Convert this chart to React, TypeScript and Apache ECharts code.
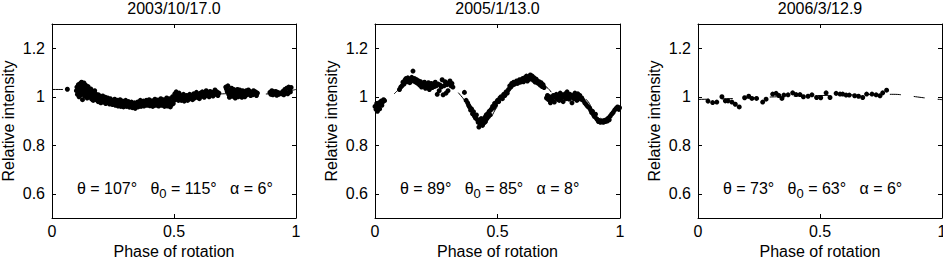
import React, { useEffect, useRef } from "react";
import * as echarts from "echarts";

// ---------- data ----------
const titles = ["2003/10/17.0", "2005/1/13.0", "2006/3/12.9"];
const annotations = [
  ["107", "115", "6"],
  ["89", "85", "8"],
  ["73", "63", "6"],
];
const xTickLabels = ["0", "0.5", "1"];
const yTickValues = [0.6, 0.8, 1, 1.2];
const yTickLabels = ["0.6", "0.8", "1", "1.2"];

const modelPhases = [0, 0.05, 0.1, 0.15, 0.2, 0.25, 0.3, 0.35, 0.4, 0.45, 0.5, 0.55, 0.6, 0.65, 0.7, 0.75, 0.8, 0.85, 0.9, 0.95, 1.0];
const model1 = [1.030, 1.030, 1.022, 1.010, 0.995, 0.985, 0.978, 0.974, 0.975, 0.980, 0.988, 0.997, 1.004, 1.009, 1.012, 1.013, 1.012, 1.011, 1.013, 1.020, 1.030];
const model2 = [0.955, 0.985, 1.032, 1.065, 1.062, 1.052, 1.047, 1.005, 0.935, 0.900, 0.960, 1.025, 1.062, 1.078, 1.040, 1.000, 1.003, 0.995, 0.935, 0.898, 0.945];
const model3 = [0.989, 0.990, 0.991, 0.993, 0.995, 0.997, 0.999, 1.001, 1.003, 1.004, 1.005, 1.006, 1.007, 1.008, 1.009, 1.010, 1.010, 1.006, 0.999, 0.993, 0.988];

const phases1 = [
  0.063,
  0.100, 0.102, 0.104, 0.106, 0.108, 0.110, 0.111, 0.113, 0.115, 0.116, 0.118, 0.120, 0.121, 0.123, 0.125, 0.126, 0.128, 0.130, 0.131, 0.133, 0.135, 0.136, 0.138, 0.140, 0.142, 0.144, 0.146, 0.148, 0.150, 0.152,
  0.155, 0.157, 0.159, 0.161, 0.163, 0.165, 0.167, 0.169, 0.171, 0.173, 0.175, 0.177, 0.180, 0.182, 0.184, 0.186, 0.189, 0.191, 0.193, 0.196, 0.198, 0.200, 0.203, 0.205, 0.208, 0.210, 0.213, 0.215, 0.218, 0.220, 0.223, 0.226, 0.228, 0.231, 0.234, 0.236, 0.239, 0.242, 0.245, 0.248,
  0.251, 0.254, 0.257, 0.260, 0.262, 0.265, 0.268, 0.271, 0.273, 0.276, 0.279, 0.282, 0.285, 0.288, 0.290, 0.293, 0.296, 0.299, 0.302, 0.305, 0.308, 0.311, 0.314, 0.317, 0.320, 0.323, 0.326, 0.329, 0.332, 0.335, 0.338, 0.341, 0.344, 0.347, 0.350, 0.353, 0.356, 0.359, 0.362, 0.365, 0.368, 0.371, 0.374, 0.377, 0.380, 0.383, 0.386, 0.389, 0.392, 0.395, 0.398, 0.401, 0.404, 0.407, 0.410, 0.413, 0.416, 0.419, 0.422, 0.425, 0.428, 0.431, 0.434, 0.437, 0.440, 0.443, 0.446, 0.449,
  0.452, 0.455, 0.458, 0.461, 0.464, 0.467, 0.470, 0.473, 0.476, 0.479, 0.482, 0.485, 0.488, 0.491, 0.494, 0.497, 0.500, 0.503, 0.506, 0.509, 0.512, 0.515, 0.518, 0.521, 0.524, 0.527, 0.530, 0.533, 0.536, 0.539, 0.542, 0.545, 0.548,
  0.552, 0.556, 0.560, 0.564, 0.568, 0.572, 0.576, 0.580, 0.584, 0.588, 0.592, 0.596, 0.600, 0.604, 0.608, 0.612, 0.616, 0.620, 0.624, 0.628, 0.632, 0.636, 0.640, 0.644, 0.648, 0.652, 0.656, 0.660, 0.664, 0.668, 0.672, 0.676, 0.680, 0.684,
  0.712, 0.715, 0.718, 0.721, 0.724, 0.727, 0.730, 0.733, 0.736, 0.739, 0.742, 0.745, 0.748, 0.751, 0.754, 0.757, 0.760, 0.763, 0.766, 0.769, 0.772, 0.775, 0.778, 0.781, 0.784, 0.787, 0.790, 0.793, 0.796, 0.799, 0.802, 0.805, 0.808, 0.811, 0.814,
  0.818, 0.822, 0.826, 0.830, 0.834, 0.838, 0.842,
  0.893, 0.897, 0.901, 0.905, 0.909, 0.913, 0.917, 0.921, 0.925, 0.930, 0.934,
  0.942, 0.946, 0.950, 0.954, 0.958, 0.962, 0.966, 0.970, 0.974, 0.977, 0.980,
];
const values1 = [
  1.031,
  1.025, 1.040, 1.010, 1.030, 1.050, 1.018, 1.000, 1.045, 1.035, 1.055, 1.022, 1.008, 1.060, 1.042, 0.988, 1.030, 1.052, 1.015, 1.057, 1.038, 1.002, 1.025, 1.048, 1.012, 1.035, 0.995, 1.020, 1.042, 1.008, 1.028,
  1.015, 0.998, 1.032, 1.010, 0.990, 1.020, 1.005, 0.985, 1.012, 0.995, 1.025, 1.000, 0.988, 1.010, 0.995, 1.002, 0.980, 1.008, 0.992, 0.985, 1.000, 0.975, 0.995, 0.985, 1.003, 0.978, 0.992, 0.982, 0.998, 0.972, 0.988, 0.980, 0.995, 0.975, 0.985, 0.970, 0.992, 0.978, 0.985, 0.968,
  0.982, 0.975, 0.990, 0.965, 0.980, 0.972, 0.985, 0.962, 0.978, 0.970, 0.988, 0.960, 0.975, 0.968, 0.982, 0.958, 0.972, 0.965, 0.985, 0.960, 0.976, 0.968, 0.980, 0.957, 0.972, 0.963, 0.978, 0.955, 0.970, 0.962, 0.975, 0.952, 0.968, 0.960, 0.978, 0.958, 0.972, 0.965, 0.985, 0.960, 0.975, 0.967, 0.982, 0.962, 0.977, 0.970, 0.985, 0.965, 0.975, 0.968, 0.988, 0.963, 0.978, 0.970, 0.983, 0.960, 0.976, 0.968, 0.990, 0.965, 0.980, 0.972, 0.986, 0.962, 0.978, 0.970, 0.992, 0.965,
  0.980, 0.972, 0.988, 0.960, 0.985, 0.975, 0.995, 0.962, 0.980, 0.970, 0.992, 0.958, 0.978, 0.968, 1.000, 0.972, 0.985, 1.012, 0.995, 1.020, 0.990, 1.008, 0.985, 1.015, 0.998, 1.005, 0.985, 1.000, 0.990, 1.010, 0.982, 0.998, 0.990,
  1.005, 0.985, 0.998, 1.010, 0.992, 1.002, 0.988, 1.012, 0.995, 1.005, 1.018, 0.998, 1.010, 0.992, 1.015, 1.002, 1.020, 1.008, 0.998, 1.012, 1.025, 1.005, 1.015, 1.000, 1.022, 1.010, 1.018, 1.003, 1.015, 1.028, 1.010, 1.020, 1.005, 1.015,
  1.040, 1.032, 1.022, 1.045, 1.010, 0.998, 1.028, 1.015, 1.035, 1.002, 1.020, 1.030, 1.008, 0.995, 1.025, 1.012, 1.030, 1.000, 1.018, 1.028, 1.005, 1.015, 0.998, 1.025, 1.010, 1.020, 1.000, 1.015, 1.025, 1.008, 1.018, 1.028, 1.012, 1.022, 1.005,
  1.018, 1.008, 1.025, 1.012, 1.020, 1.005, 1.015,
  1.018, 1.010, 1.025, 1.008, 1.020, 1.012, 1.022, 1.006, 1.018, 1.010, 1.015,
  1.012, 1.022, 1.008, 1.030, 1.018, 1.035, 1.012, 1.040, 1.025, 1.020, 1.038,
];

const phases2 = [
  0.000, 0.004, 0.007, 0.010, 0.013, 0.016, 0.019, 0.022, 0.025, 0.028, 0.031, 0.035, 0.039,
  0.100, 0.105, 0.110, 0.114, 0.118, 0.122, 0.126, 0.130, 0.134, 0.138, 0.142, 0.146, 0.150, 0.155, 0.158, 0.162, 0.166, 0.170, 0.174, 0.178, 0.182, 0.186, 0.190, 0.194, 0.198, 0.202, 0.206, 0.210, 0.214, 0.218, 0.222, 0.226, 0.230, 0.234, 0.238, 0.242, 0.246, 0.250, 0.254, 0.258, 0.262, 0.266, 0.270, 0.274, 0.278, 0.282, 0.286, 0.290, 0.294, 0.298, 0.302, 0.306, 0.310, 0.314, 0.318,
  0.365,
  0.372, 0.378, 0.382, 0.386, 0.390, 0.394, 0.398, 0.402, 0.406, 0.410, 0.414, 0.418, 0.421, 0.424, 0.427, 0.430, 0.433, 0.436, 0.439, 0.442, 0.445, 0.448, 0.451, 0.454, 0.457, 0.460, 0.463, 0.466, 0.469, 0.472, 0.476, 0.480, 0.484, 0.488, 0.492,
  0.496, 0.500, 0.505, 0.510, 0.515, 0.520, 0.525, 0.530, 0.535, 0.540, 0.545, 0.550, 0.554, 0.558, 0.562, 0.566, 0.570, 0.574, 0.578, 0.582, 0.586, 0.590, 0.594, 0.598, 0.602, 0.606, 0.610, 0.614, 0.618, 0.622, 0.626, 0.630, 0.634, 0.638, 0.642, 0.646, 0.650, 0.654, 0.658, 0.662, 0.666, 0.670, 0.674, 0.678, 0.682, 0.686, 0.690,
  0.700, 0.704, 0.708, 0.712, 0.716, 0.720, 0.724, 0.728, 0.732, 0.736, 0.740, 0.744, 0.748, 0.752, 0.756, 0.760, 0.764, 0.768, 0.772, 0.776, 0.780, 0.784, 0.788, 0.792, 0.796, 0.800, 0.804, 0.808, 0.812, 0.816, 0.820, 0.824, 0.828, 0.832, 0.836, 0.840, 0.844,
  0.850, 0.856, 0.862, 0.868, 0.874, 0.880, 0.884, 0.888, 0.892, 0.896, 0.900, 0.904, 0.908, 0.912, 0.916, 0.920, 0.924, 0.928, 0.932, 0.936, 0.940, 0.944, 0.948, 0.952, 0.956, 0.960, 0.966, 0.972, 0.978, 0.984, 0.990, 0.995, 0.998,
];
const values2 = [
  0.960, 0.948, 0.972, 0.940, 0.958, 0.975, 0.950, 0.968, 0.982, 0.965, 0.978, 0.988, 0.984,
  1.030, 1.040, 1.045, 1.060, 1.052, 1.068, 1.075, 1.062, 1.078, 1.070, 1.058, 1.072, 1.080, 1.106, 1.065, 1.075, 1.060, 1.070, 1.055, 1.065, 1.048, 1.062, 1.040, 1.055, 1.045, 1.060, 1.035, 1.050, 1.042, 1.058, 1.030, 1.048, 1.055, 1.038, 1.050, 1.042, 1.060, 1.045, 1.010, 1.052, 1.025, 1.048, 1.040, 1.070, 1.008, 1.045, 1.062, 1.015, 1.050, 1.025, 1.058, 1.065, 1.045, 1.055, 1.040,
  1.018,
  0.985, 0.975, 0.965, 0.958, 0.945, 0.950, 0.930, 0.938, 0.920, 0.912, 0.925, 0.905, 0.895, 0.875, 0.900, 0.888, 0.910, 0.895, 0.882, 0.905, 0.892, 0.915, 0.898, 0.925, 0.910, 0.930, 0.918, 0.940, 0.925, 0.945, 0.950, 0.960, 0.955, 0.972, 0.965,
  0.978, 0.985, 0.980, 0.995, 1.000, 0.992, 1.010, 1.005, 1.020, 1.015, 1.030, 1.045, 1.040, 1.055, 1.048, 1.060, 1.052, 1.058, 1.065, 1.055, 1.062, 1.070, 1.060, 1.068, 1.075, 1.062, 1.078, 1.070, 1.085, 1.065, 1.080, 1.072, 1.090, 1.075, 1.085, 1.068, 1.078, 1.060, 1.072, 1.065, 1.055, 1.062, 1.048, 1.058, 1.042, 1.050, 1.038,
  0.995, 1.005, 0.988, 1.000, 0.975, 0.995, 0.985, 1.005, 0.978, 0.998, 1.010, 0.990, 1.002, 0.985, 1.015, 0.995, 1.008, 0.980, 1.000, 1.012, 0.992, 1.020, 1.005, 0.990, 1.010, 0.998, 0.975, 1.005, 0.992, 1.015, 1.000, 0.985, 1.012, 0.998, 1.005, 0.990, 0.995,
  0.985, 0.975, 0.968, 0.960, 0.955, 0.945, 0.935, 0.940, 0.925, 0.918, 0.928, 0.910, 0.905, 0.898, 0.902, 0.895, 0.898, 0.900, 0.895, 0.902, 0.898, 0.905, 0.900, 0.912, 0.905, 0.920, 0.928, 0.935, 0.945, 0.952, 0.958, 0.948, 0.955,
];

const phases3 = [0.041, 0.060, 0.077, 0.098, 0.112, 0.123, 0.139, 0.153, 0.169, 0.191, 0.208, 0.221, 0.240, 0.265, 0.279, 0.306, 0.320, 0.331, 0.344, 0.352, 0.369, 0.388, 0.402, 0.418, 0.432, 0.451, 0.467, 0.486, 0.503, 0.525, 0.541, 0.566, 0.582, 0.593, 0.607, 0.620, 0.642, 0.658, 0.675, 0.691, 0.713, 0.730, 0.746, 0.757, 0.773];
const values3 = [0.982, 0.976, 0.978, 1.000, 0.983, 0.983, 0.978, 0.969, 0.958, 0.996, 1.002, 0.993, 0.993, 0.978, 0.990, 1.011, 1.014, 1.005, 0.993, 1.007, 1.008, 1.016, 1.009, 1.009, 1.000, 1.002, 1.008, 0.997, 0.996, 1.016, 0.997, 1.014, 1.011, 1.011, 1.007, 1.007, 1.004, 1.002, 0.997, 1.011, 1.011, 1.008, 1.004, 1.016, 1.027];

const panelPhases = [phases1, phases2, phases3];
const panelValues = [values1, values2, values3];
const panelModels = [model1, model2, model3];

// ---------- layout ----------
const FONT = "'Liberation Sans', Arial, Helvetica, sans-serif";
const GRID_TOP = 24;
const GRID_HEIGHT = 194;
const PANELS = [
  { left: 52, width: 244 },
  { left: 375, width: 245 },
  { left: 698, width: 244 },
];

function buildOption() {
  const grid: any[] = [];
  const xAxis: any[] = [];
  const yAxis: any[] = [];
  const series: any[] = [];
  const title: any[] = [];

  PANELS.forEach((p, i) => {
    grid.push({
      left: p.left, width: p.width, top: GRID_TOP, height: GRID_HEIGHT,
      containLabel: false, outerBoundsMode: "none",
    });
    title.push({
      text: titles[i],
      left: p.left + p.width / 2,
      textAlign: "center",
      top: 0,
      padding: 0,
      textStyle: { fontFamily: FONT, fontSize: 16, fontWeight: 400, color: "#000" },
    });
    const lineStyle = { color: "#000", width: 1 };
    xAxis.push({
      type: "value", gridIndex: i, position: "bottom", min: 0, max: 1, interval: 0.5,
      name: "Phase of rotation", nameLocation: "middle", nameGap: 20,
      nameTextStyle: { fontFamily: FONT, fontSize: 16, color: "#000" },
      axisLine: { show: true, onZero: false, lineStyle },
      axisTick: { show: true, inside: true, length: 4, lineStyle },
      axisLabel: {
        show: true, margin: 5, fontFamily: FONT, fontSize: 16, color: "#000",
        formatter: (v: number) => xTickLabels[Math.round(v * 2)] ?? "",
      },
      splitLine: { show: false },
    });
    xAxis.push({
      type: "value", gridIndex: i, position: "top", min: 0, max: 1, interval: 0.5,
      axisLine: { show: true, onZero: false, lineStyle },
      axisTick: { show: true, inside: true, length: 4, lineStyle },
      axisLabel: { show: false },
      splitLine: { show: false },
    });
    yAxis.push({
      type: "value", gridIndex: i, position: "left", min: 0.5, max: 1.3,
      name: "Relative intensity", nameLocation: "middle", nameGap: 36,
      nameTextStyle: { fontFamily: FONT, fontSize: 16, color: "#000" },
      axisLine: { show: true, onZero: false, lineStyle },
      axisTick: { show: true, inside: true, length: 4, lineStyle, customValues: yTickValues },
      axisLabel: {
        show: true, margin: 7, fontFamily: FONT, fontSize: 16, color: "#000",
        customValues: yTickValues,
        formatter: (v: number) => {
          const k = yTickValues.findIndex((t) => Math.abs(t - v) < 1e-6);
          return k >= 0 ? yTickLabels[k] : "";
        },
      },
      splitLine: { show: false },
    });
    yAxis.push({
      type: "value", gridIndex: i, position: "right", min: 0.5, max: 1.3,
      axisLine: { show: true, onZero: false, lineStyle },
      axisTick: { show: true, inside: true, length: 4, lineStyle, customValues: yTickValues },
      axisLabel: { show: false, customValues: yTickValues },
      splitLine: { show: false },
    });

    const xi = i * 2;
    series.push({
      type: "line", xAxisIndex: xi, yAxisIndex: xi,
      data: modelPhases.map((ph, k) => [ph, panelModels[i][k]]),
      symbol: "none", smooth: true, silent: true,
      lineStyle: { color: "#000", width: 1, type: [11, 13] },
      z: 1,
    });
    series.push({
      type: "scatter", xAxisIndex: xi, yAxisIndex: xi,
      data: panelPhases[i].map((ph, k) => [ph, panelValues[i][k]]),
      symbol: "circle", symbolSize: 5, silent: true,
      itemStyle: { color: "#000", opacity: 1 },
      z: 2,
    });
    const a = annotations[i];
    series.push({
      type: "scatter", xAxisIndex: xi, yAxisIndex: xi,
      data: [[0.1, 0.63]],
      symbolSize: 1, silent: true,
      itemStyle: { color: "rgba(0,0,0,0)", opacity: 1 },
      label: {
        show: true, position: "right", distance: 0, offset: [0, 2], color: "#000",
        formatter: `{n|θ = ${a[0]}°   θ}{s|0}{n| = ${a[1]}°   α = ${a[2]}°}`,
        rich: {
          n: { fontFamily: FONT, fontSize: 16, color: "#000" },
          s: { fontFamily: FONT, fontSize: 13, color: "#000", padding: [11, 0, 0, 0] },
        },
      },
      z: 3,
    });
  });

  return { animation: false, backgroundColor: "#fff", title, grid, xAxis, yAxis, series };
}

export default function App() {
  const ref = useRef<HTMLDivElement>(null);
  useEffect(() => {
    if (!ref.current) return;
    const chart = echarts.init(ref.current, undefined, { renderer: "svg" });
    chart.setOption(buildOption() as any);
    return () => chart.dispose();
  }, []);
  return (
    <div
      ref={ref}
      style={{ position: "absolute", left: 0, top: 0, width: 943, height: 260, background: "#fff" }}
    />
  );
}
